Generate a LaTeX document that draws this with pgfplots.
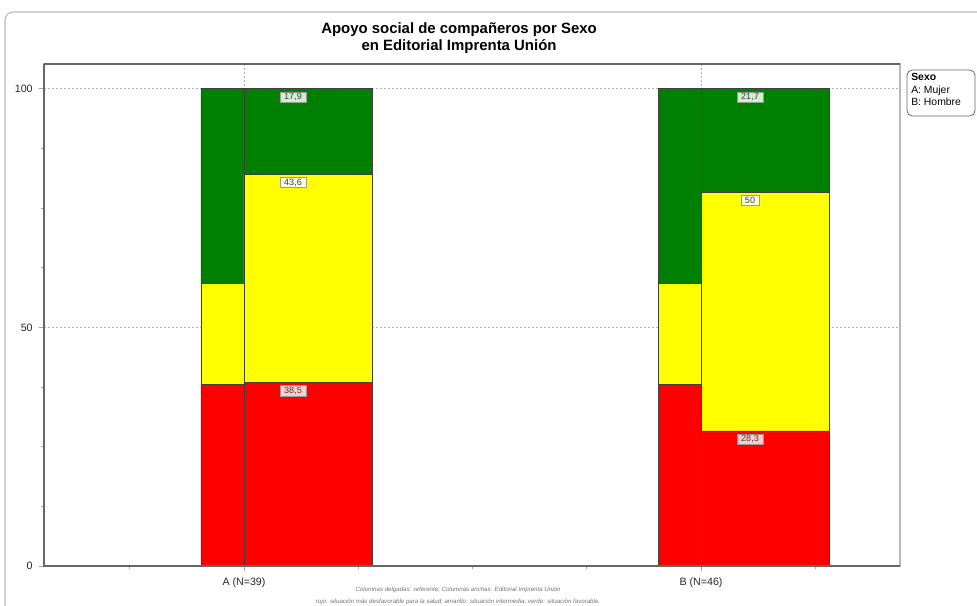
\documentclass[border=0pt]{standalone}
\usepackage{pgfplots}
\usepackage{pgfplotstable}
\pgfplotsset{compat=1.18}
\usepackage{fontspec}
\setmainfont{Liberation Sans}

\definecolor{cred}{HTML}{FF0000}
\definecolor{cyellow}{HTML}{FFFF00}
\definecolor{cgreen}{HTML}{008000}
\definecolor{lred}{HTML}{FFCCCC}
\definecolor{lyellow}{HTML}{FFFFE6}
\definecolor{lgreen}{HTML}{D2ECD2}

\pgfplotstableread{
x red yellow green
1 38.1 21.2 40.7
2 38.0 21.3 40.7
}\refdata
\pgfplotstableread{
x red yellow green
1 38.5 43.6 17.9
2 28.3 50 21.7
}\empdata
% label positions: top of each segment of the wide bars
\pgfplotstableread{
x top val
1 38.5 38.5
2 28.3 28.3
}\lblred
\pgfplotstableread{
x top val
1 82.1 43.6
2 78.3 50
}\lblyellow
\pgfplotstableread{
x top val
1 100 17.9
2 100 21.7
}\lblgreen

\pgfplotsset{
  mybase/.style={
    at={(33pt,30pt)}, anchor=south west,
    scale only axis, width=642pt, height=376.5pt,
    xmin=0.5624, xmax=2.4354, ymin=0, ymax=105.2,
  },
  mybar/.style={draw=black!75, line width=0.6pt},
}

\begin{document}
\begin{tikzpicture}[x=0.75pt,y=0.75pt]
\useasboundingbox (0,0) rectangle (977,606);
\begin{scope}
\clip (0,0) rectangle (977,606);
\draw[gray!55, line width=0.8pt, rounded corners=6] (5,594) rectangle (1010,-30);
\end{scope}

% title
\node[font=\bfseries\fontsize{11.2}{13}\selectfont, align=center] at (459,568)
  {Apoyo social de compañeros por Sexo\\en Editorial Imprenta Unión};

% thin bars (reference) + axis
\begin{axis}[mybase, ybar stacked,
  bar width=32.25pt, bar shift=-16.125pt,
  axis line style={draw=gray!55, line width=1.1pt},
  tick align=outside,
  xtick pos=lower, ytick pos=left,
  major tick length=4pt, minor tick length=2.5pt,
  tick style={gray!70, line width=0.6pt},
  ytick={0,50,100}, minor y tick num=3,
  xtick={1,2}, xticklabels={A (N=39), B (N=46)},
  minor xtick={0.75,1.25,1.5,1.75,2.25},
  grid=major,
  major grid style={gray!60, line width=0.5pt, dash pattern=on 1.5pt off 1.5pt},
  tick label style={font=\fontsize{8}{9}\selectfont, text=black!85},
  /pgf/number format/assume math mode=true,
  yticklabel style={xshift=-1pt},
  xticklabel style={yshift=-1pt},
]
\addplot[mybar, fill=cred] table[x=x, y=red] {\refdata};
\addplot[mybar, fill=cyellow] table[x=x, y=yellow] {\refdata};
\addplot[mybar, fill=cgreen] table[x=x, y=green] {\refdata};
\end{axis}

% wide bars (Editorial)
\begin{axis}[mybase, ybar stacked,
  hide axis,
  bar width=96pt, bar shift=48pt,
  after end axis/.code={
    \draw[black!60, line width=1.4pt] (rel axis cs:0,1) -- (rel axis cs:1,1);
    \draw[black!60, line width=1.4pt] (rel axis cs:0,1) -- (rel axis cs:0,0) -- (rel axis cs:1,0);
  },
]
\addplot[mybar, fill=cred] table[x=x, y=red] {\empdata};
\addplot[mybar, fill=cyellow] table[x=x, y=yellow] {\empdata};
\addplot[mybar, fill=cgreen] table[x=x, y=green] {\empdata};
\end{axis}

% value labels of wide bars
\begin{axis}[mybase,
  hide axis,
  point meta=explicit,
  nodes near coords,
  /pgf/number format/use comma,
  /pgf/number format/assume math mode=true,
  every node near coord/.style={anchor=north, yshift=-2.3pt, xshift=36.75pt,
    font=\fontsize{6.8}{7.5}\selectfont, text=black!75, draw=gray!80,
    line width=0.4pt, inner ysep=1pt, inner xsep=3pt},
]
\addplot[draw=none, mark=none, every node near coord/.append style={fill=lred}]
  table[x=x, y=top, meta=val] {\lblred};
\addplot[draw=none, mark=none, every node near coord/.append style={fill=lyellow}]
  table[x=x, y=top, meta=val] {\lblyellow};
\addplot[draw=none, mark=none, every node near coord/.append style={fill=lgreen}]
  table[x=x, y=top, meta=val] {\lblgreen};
\end{axis}

% legend box
\draw[black!60, line width=0.6pt, rounded corners=4] (907,536) rectangle (975,490);
\node[anchor=north west, font=\fontsize{7.8}{9.5}\selectfont, align=left, inner sep=0pt]
  at (911,533) {\textbf{Sexo}\\A: Mujer\\B: Hombre};

% caption
\node[font=\itshape\fontsize{4.6}{5}\selectfont, text=black!55] at (458,16)
  {Columnas delgadas: referente; Columnas anchas: Editorial Imprenta Unión};
\node[font=\itshape\fontsize{4.6}{5}\selectfont, text=black!55] at (458,4)
  {rojo: situación más desfavorable para la salud; amarillo: situación intermedia; verde: situación favorable.};
\end{tikzpicture}
\end{document}
